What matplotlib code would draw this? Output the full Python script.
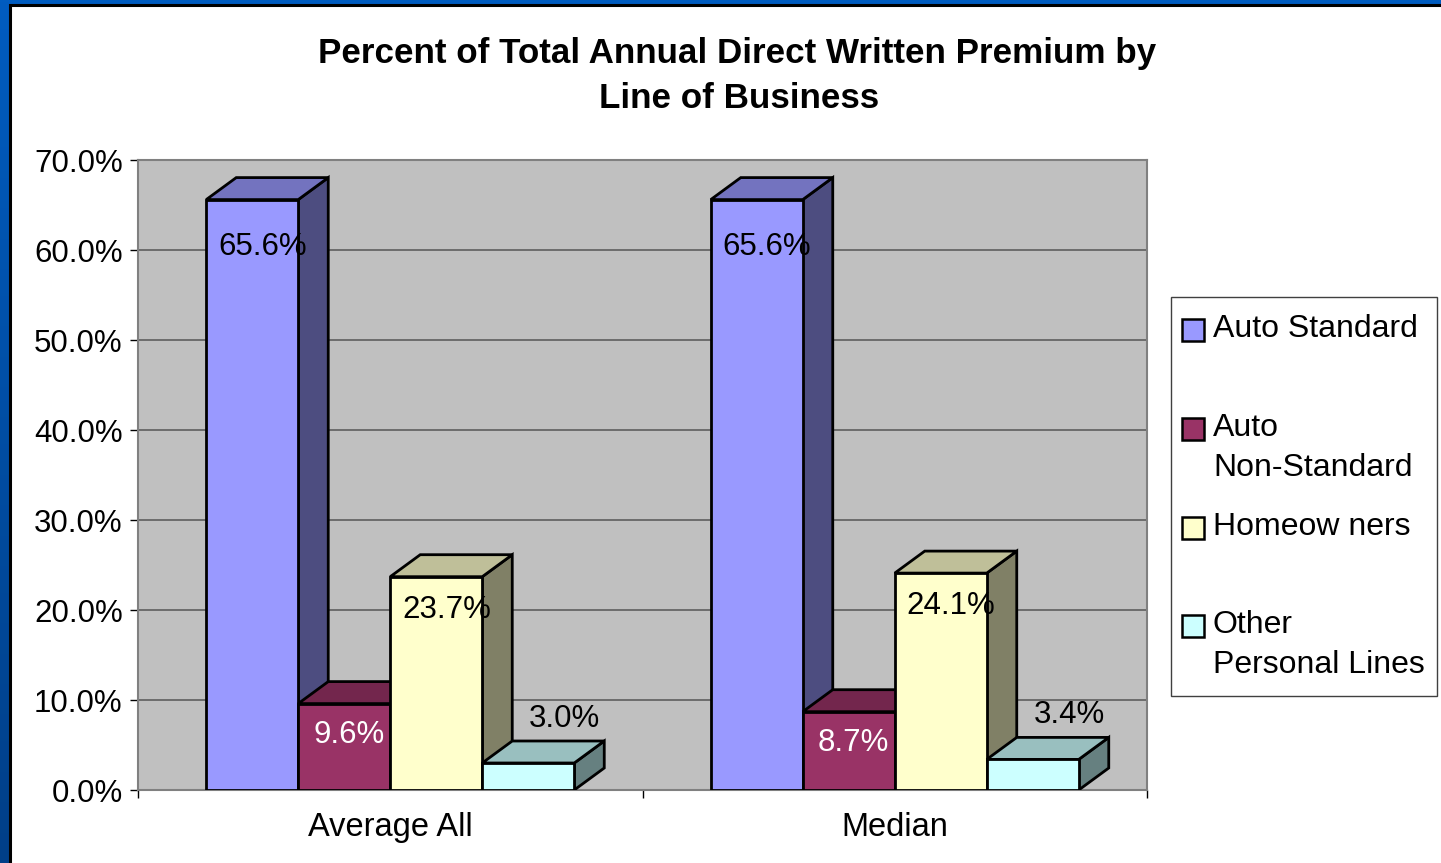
import matplotlib.pyplot as plt
import numpy as np
from matplotlib.patches import Rectangle, Polygon
from matplotlib.colors import LinearSegmentedColormap

plt.rcParams['font.family'] = ['Liberation Sans', 'DejaVu Sans']

# data
categories = ['Average All', 'Median']
series = ['Auto Standard', 'Auto\nNon-Standard', 'Homeow ners', 'Other\nPersonal Lines']
values = [
    [65.6, 9.6, 23.7, 3.0],   # Average All
    [65.6, 8.7, 24.1, 3.4],   # Median
]

# face colours: front, top, side
front = ['#9999FF', '#993366', '#FFFFCC', '#CCFFFF']
top = ['#7373BF', '#73264D', '#BFBF99', '#99BFBF']
side = ['#4D4D80', '#4D1A33', '#808066', '#668080']
label_col = ['black', 'white', 'black', 'black']
lab_dx = [0.020, 0.010, 0.020, 0.072]
lab_dy = [-6.2, -4.4, -4.6, 4.0]

W, H = 1441, 863
fig = plt.figure(figsize=(W / 100, H / 100), dpi=100)

# frame and free-floating text live on a pixel-space background axes
bg = fig.add_axes([0, 0, 1, 1], zorder=-10)
grad = np.linspace(0, 1, 256).reshape(-1, 1)
blues = LinearSegmentedColormap.from_list('frame', ['#005CC0', '#003F88'])
bg.imshow(grad, cmap=blues, extent=(0, W, H, 0), aspect='auto')
bg.add_patch(Rectangle((9.5, 5.5), 1600, 1000, facecolor='white',
                       edgecolor='black', lw=2.2))
bg.set_xlim(0, W)
bg.set_ylim(H, 0)
bg.axis('off')

bg.text(737, 62.7, 'Percent of Total Annual Direct Written Premium by',
        ha='center', va='baseline', fontsize=25.2, fontweight='bold')
bg.text(739, 108, 'Line of Business', ha='center', va='baseline',
        fontsize=25.2, fontweight='bold')

# legend
bg.add_patch(Rectangle((1171, 297), 266, 399, facecolor='white',
                       edgecolor='#404040', lw=1))
sq_top = [319, 418, 517, 615]
for i, name in enumerate(series):
    bg.add_patch(Rectangle((1182, sq_top[i]), 22, 22, facecolor=front[i],
                           edgecolor='black', lw=1.8))
    for j, line in enumerate(name.split('\n')):
        bg.text(1213, sq_top[i] + 18 + j * 40, line, ha='left',
                va='baseline', fontsize=23)

# plot area
ax = fig.add_axes([138 / W, (H - 790) / H, 1009 / W, 630 / H])
ax.set_xlim(0, 2)
ax.set_ylim(0, 70)
ax.set_facecolor('#C0C0C0')
ax.set_axisbelow(True)
ax.yaxis.grid(True, color='#666666', lw=1.3)
for sp in ax.spines.values():
    sp.set_color('#808080')
    sp.set_linewidth(1.5)

ax.set_yticks(np.arange(0, 71, 10))
ax.set_yticklabels([f'{v:.1f}%' for v in np.arange(0, 71, 10)])
ax.tick_params(axis='y', labelsize=22.5, length=6, width=1, pad=5)
ax.set_xticks([0, 1, 2])
ax.set_xticklabels([])
ax.tick_params(axis='x', which='major', length=6, width=1)
ax.set_xticks([0.5, 1.5], minor=True)
ax.set_xticklabels(categories, minor=True)
ax.tick_params(axis='x', which='minor', length=0, labelsize=23.5, pad=16)

w = 92 / 504.5    # bar width in category units
dx = 30 / 504.5   # depth offset, x
dy = 22 / 9       # depth offset, y (percent)

z = 3
for gi, cat in enumerate(categories):
    centre = gi + 0.5
    for si in range(len(series)):
        v = values[gi][si]
        x0 = centre - 2 * w + si * w
        kw = dict(edgecolor='black', lw=2, joinstyle='miter')
        ax.add_patch(Polygon([(x0 + w, 0), (x0 + w + dx, dy),
                              (x0 + w + dx, v + dy), (x0 + w, v)],
                             facecolor=side[si], zorder=z, **kw))
        ax.add_patch(Polygon([(x0, v), (x0 + dx, v + dy),
                              (x0 + w + dx, v + dy), (x0 + w, v)],
                             facecolor=top[si], zorder=z, **kw))
        ax.add_patch(Rectangle((x0, 0), w, v, facecolor=front[si],
                               zorder=z + 0.5, **kw))
        z += 1
        ax.text(x0 + w / 2 + lab_dx[si], v + lab_dy[si], f'{v:.1f}%',
                ha='center', va='baseline', fontsize=22.5,
                color=label_col[si], zorder=50)

fig.savefig('out.png', dpi=100)
